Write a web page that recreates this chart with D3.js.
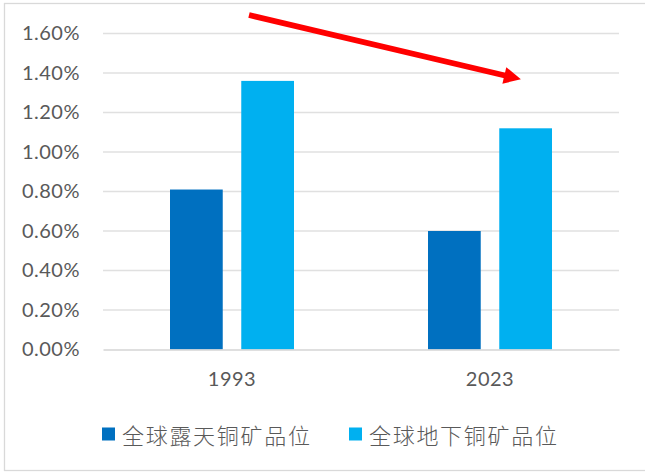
<!DOCTYPE html>
<html>
<head>
<meta charset="utf-8">
<script src="https://cdn.jsdelivr.net/npm/d3@7"></script>
<style>
  html, body { margin: 0; padding: 0; background: #fff; }
  svg { display: block; }
</style>
</head>
<body>
<svg id="chart" width="645" height="472"></svg>
<script>
// Copy ore grade by mining method, 1993 vs 2023
const years = ["1993", "2023"];
const seriesNames = ["全球露天铜矿品位", "全球地下铜矿品位"];
const openPitGrade = [0.0081, 0.0060];
const undergroundGrade = [0.0136, 0.0112];
const yTicks = [0, 0.002, 0.004, 0.006, 0.008, 0.010, 0.012, 0.014, 0.016];
const colors = ["#0070C0", "#00B0F0"];

const svg = d3.select("#chart");
const W = 645, H = 472;
const margin = { left: 103, right: 26, top: 33.5, bottom: 122.5 };
const plotW = W - margin.left - margin.right;
const plotH = H - margin.top - margin.bottom;

// outer chart frame
svg.append("rect")
  .attr("x", 4.5).attr("y", 3.5)
  .attr("width", 660).attr("height", 467)
  .attr("fill", "#fff")
  .attr("stroke", "#d9d9d9").attr("stroke-width", 1.3);

const g = svg.append("g").attr("transform", `translate(${margin.left},${margin.top})`);

const y = d3.scaleLinear().domain([0, 0.016]).range([plotH, 0]);
const x0 = d3.scaleBand().domain(years).range([0, plotW]).paddingInner(0).paddingOuter(0);
const x1 = d3.scaleBand().domain(seriesNames).range([-62, 62]).paddingInner(0.26).paddingOuter(0);

// horizontal gridlines
g.append("g")
  .selectAll("line")
  .data(yTicks.filter(d => d > 0))
  .join("line")
  .attr("x1", 0).attr("x2", plotW)
  .attr("y1", d => y(d)).attr("y2", d => y(d))
  .attr("stroke", "#e0e0e0").attr("stroke-width", 1.3);

// y axis labels
const fmt = d3.format(".2%");
const yAxis = d3.axisLeft(y).tickValues(yTicks).tickFormat(fmt).tickSize(0).tickPadding(23);
const ya = g.append("g").call(yAxis);
ya.select(".domain").remove();
ya.selectAll("text")
  .attr("fill", "#595959")
  .style("font-family", "Lato, 'Open Sans', sans-serif")
  .style("font-size", "20px")
  .style("letter-spacing", "0.5px");

// bars
const series = [openPitGrade, undergroundGrade];
const groups = g.append("g").selectAll("g")
  .data(years.map((yr, i) => ({ yr, vals: series.map((s, k) => ({ name: seriesNames[k], v: s[i], k })) })))
  .join("g")
  .attr("transform", d => `translate(${x0(d.yr) + x0.bandwidth() / 2},0)`);

groups.selectAll("rect")
  .data(d => d.vals)
  .join("rect")
  .attr("x", d => x1(d.name))
  .attr("width", x1.bandwidth())
  .attr("y", d => y(d.v))
  .attr("height", d => y(0) - y(d.v))
  .attr("fill", d => colors[d.k]);

// category axis line and labels
const xAxis = d3.axisBottom(x0).tickSize(0).tickPadding(22);
const xa = g.append("g").attr("transform", `translate(0,${plotH})`).call(xAxis);
xa.select(".domain").attr("stroke", "#d4d4d4").attr("stroke-width", 1.5);
xa.selectAll("text")
  .attr("fill", "#595959")
  .style("font-family", "Lato, 'Open Sans', sans-serif")
  .style("font-size", "20px")
  .style("letter-spacing", "0.5px");

// legend
const legendItems = [{ x: 102, name: seriesNames[0], c: colors[0] }, { x: 349, name: seriesNames[1], c: colors[1] }];
const lg = svg.append("g");
legendItems.forEach(it => {
  lg.append("rect").attr("x", it.x).attr("y", 427.5).attr("width", 13).attr("height", 13).attr("fill", it.c);
  lg.append("text")
    .attr("x", it.x + 20).attr("y", 434)
    .attr("dominant-baseline", "central")
    .attr("fill", "#595959")
    .style("font-family", "'Noto Sans CJK SC', sans-serif")
    .style("font-weight", "300")
    .style("font-size", "22px")
    .style("letter-spacing", "1.7px")
    .text(it.name);
});

// downward trend arrow
const defs = svg.append("defs");
defs.append("marker")
  .attr("id", "head")
  .attr("viewBox", "0 0 10 10")
  .attr("refX", 1).attr("refY", 5)
  .attr("markerUnits", "userSpaceOnUse")
  .attr("markerWidth", 19).attr("markerHeight", 17)
  .attr("orient", "auto")
  .append("path").attr("d", "M0,0 L10,5 L0,10 Z").attr("fill", "#ff0000");

svg.append("line")
  .attr("x1", 249).attr("y1", 15)
  .attr("x2", 506).attr("y2", 75.8)
  .attr("stroke", "#ff0000").attr("stroke-width", 5.8)
  .attr("marker-end", "url(#head)");
</script>
</body>
</html>
